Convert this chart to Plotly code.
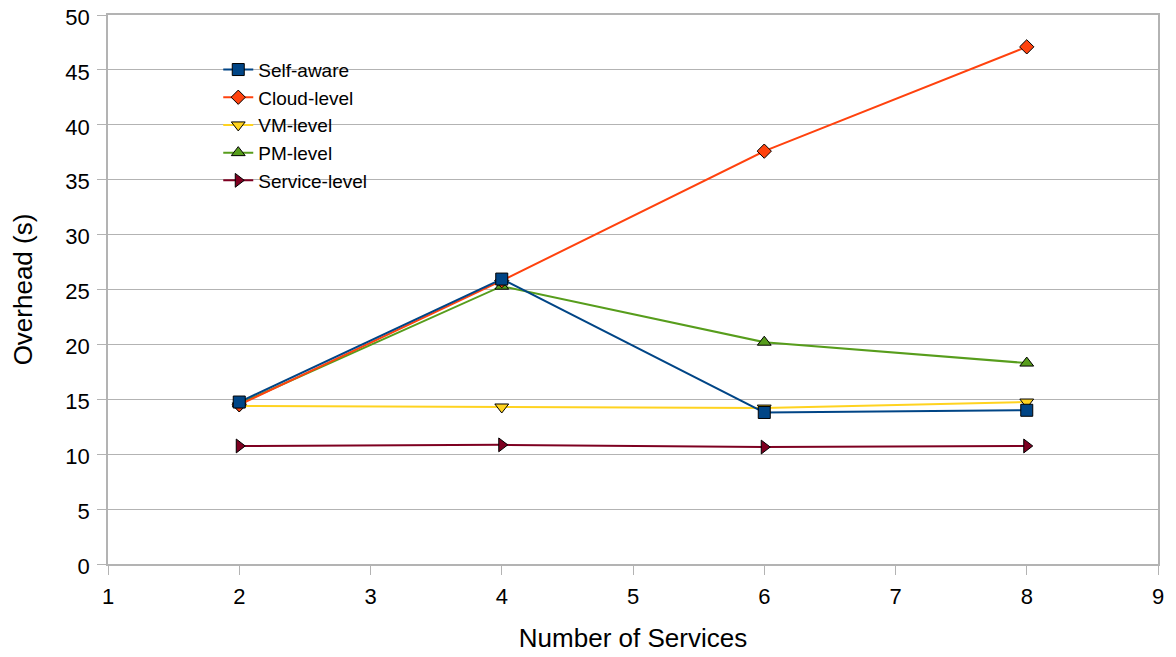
import plotly.graph_objects as go

services = [2, 4, 6, 8]
self_aware = [14.75, 25.95, 13.8, 14.0]
cloud_level = [14.5, 25.8, 37.6, 47.1]
vm_level = [14.4, 14.3, 14.2, 14.75]
pm_level = [14.6, 25.3, 20.2, 18.3]
service_level = [10.75, 10.85, 10.65, 10.75]

series = [
    ("Self-aware", self_aware, "#004586", "square"),
    ("Cloud-level", cloud_level, "#ff420e", "diamond"),
    ("VM-level", vm_level, "#ffd320", "triangle-down"),
    ("PM-level", pm_level, "#579d1c", "triangle-up"),
    ("Service-level", service_level, "#7e0021", "triangle-right"),
]

fig = go.Figure()
# draw in reverse so Self-aware ends up on top
for name, vals, color, sym in reversed(series):
    fig.add_trace(go.Scatter(
        x=services, y=vals, name=name, mode="lines+markers",
        legendgroup=name, legendrank=[s[0] for s in series].index(name),
        line=dict(color=color, width=2),
        marker=dict(symbol=sym, size=12 if sym != "diamond" else 11,
                    color=color, line=dict(color="black", width=1)),
    ))

# page body has an 8px margin, so the figure is a bit smaller than the window
fig.update_layout(
    width=1168, height=649,
    margin=dict(l=100, r=18, t=7, b=93),
    plot_bgcolor="white", paper_bgcolor="white",
    font=dict(family="Liberation Sans, Arial, sans-serif", size=22, color="black"),
    legend=dict(x=0.105, y=0.935, xanchor="left", yanchor="top",
                bgcolor="rgba(0,0,0,0)", font=dict(size=19),
                traceorder="grouped", tracegroupgap=0, itemwidth=30),
    showlegend=True,
)
fig.update_xaxes(
    range=[1, 9], dtick=1, tick0=1, showgrid=False, zeroline=False, automargin=False,
    showline=True, linecolor="#b3b3b3", linewidth=1.5, mirror=True,
    ticks="outside", ticklen=9, tickcolor="#b3b3b3", ticklabeloverflow="allow",
    ticklabelstandoff=3,
    title=dict(text="Number of Services", standoff=21),
)
fig.update_yaxes(
    range=[0, 50], dtick=5, showgrid=True, gridcolor="#b3b3b3", gridwidth=1.2,
    zeroline=False, showline=True, linecolor="#b3b3b3", linewidth=1.5, mirror=True,
    ticks="outside", ticklen=9, tickcolor="#b3b3b3", automargin=False,
    ticklabeloverflow="allow", ticklabelshift=2, ticklabelstandoff=3,
    title=dict(text="Overhead (s)", standoff=30),
)

fig.write_html("out.html")
